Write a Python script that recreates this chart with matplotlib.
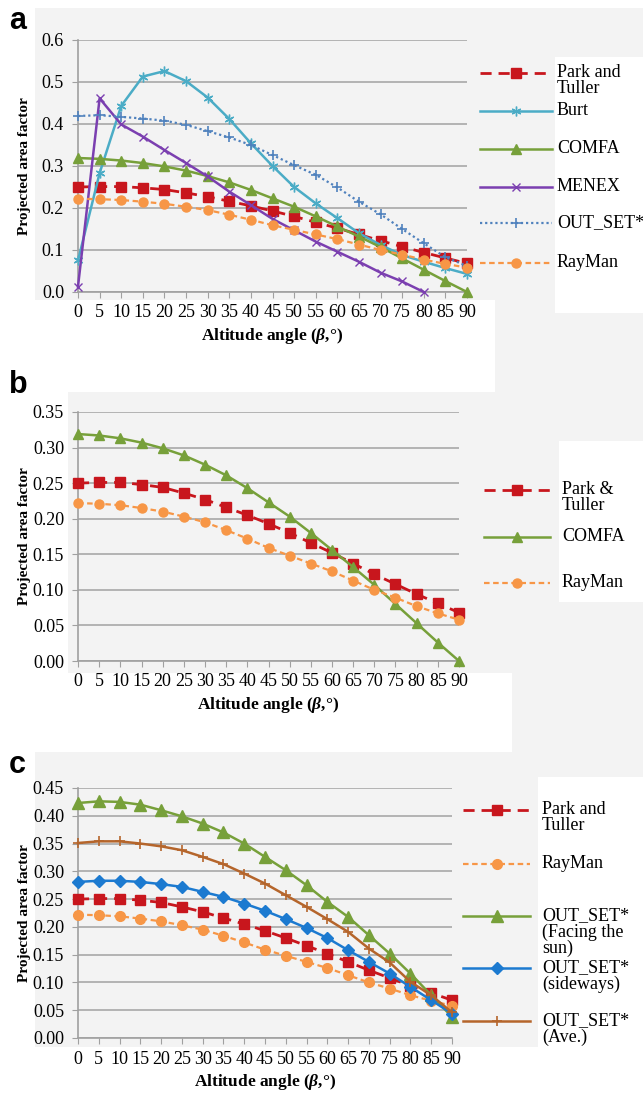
import numpy as np
import matplotlib
matplotlib.use("Agg")
import matplotlib.pyplot as plt
from matplotlib.lines import Line2D
from matplotlib.patches import Rectangle
from matplotlib.ticker import FormatStrFormatter
from matplotlib.transforms import blended_transform_factory

plt.rcParams['font.family'] = ['Liberation Serif', 'DejaVu Serif']
plt.rcParams['mathtext.fontset'] = 'custom'
plt.rcParams['mathtext.rm'] = 'Liberation Serif:bold'
plt.rcParams['mathtext.it'] = 'Liberation Serif:italic:bold'
plt.rcParams['mathtext.bf'] = 'Liberation Serif:bold'

# data
angles = list(range(0, 91, 5))
park_tuller = [0.250, 0.251, 0.251, 0.248, 0.244, 0.236, 0.227, 0.216, 0.205, 0.193,
               0.180, 0.166, 0.152, 0.137, 0.122, 0.108, 0.094, 0.081, 0.068]
rayman = [0.222, 0.221, 0.219, 0.215, 0.210, 0.203, 0.195, 0.184, 0.172, 0.159,
          0.148, 0.137, 0.126, 0.113, 0.100, 0.089, 0.077, 0.067, 0.058]
comfa = [0.319, 0.317, 0.313, 0.307, 0.299, 0.289, 0.276, 0.261, 0.243, 0.223,
         0.203, 0.180, 0.156, 0.132, 0.107, 0.080, 0.053, 0.026, 0.000]
burt = [0.075, 0.283, 0.443, 0.513, 0.526, 0.502, 0.463, 0.412, 0.354, 0.300,
        0.250, 0.211, 0.176, 0.140, 0.112, 0.088, 0.072, 0.057, 0.043]
menex = [0.013, 0.461, 0.399, 0.370, 0.338, 0.307, 0.275, 0.239, 0.207, 0.174,
         0.147, 0.120, 0.096, 0.072, 0.046, 0.025, 0.000, np.nan, np.nan]
out_set = [0.419, 0.421, 0.417, 0.413, 0.408, 0.398, 0.383, 0.368, 0.350, 0.326,
           0.302, 0.279, 0.249, 0.215, 0.185, 0.150, 0.116, 0.083, 0.062]
out_set_facing = [0.423, 0.426, 0.425, 0.420, 0.410, 0.399, 0.386, 0.370, 0.350, 0.326,
                  0.302, 0.275, 0.245, 0.218, 0.185, 0.152, 0.116, 0.077, 0.038]
out_set_sideways = [0.281, 0.283, 0.283, 0.281, 0.277, 0.272, 0.263, 0.254, 0.242, 0.229,
                    0.214, 0.198, 0.180, 0.158, 0.137, 0.116, 0.092, 0.068, 0.044]
out_set_ave = [0.351, 0.354, 0.354, 0.350, 0.345, 0.338, 0.326, 0.313, 0.296, 0.278,
               0.257, 0.236, 0.214, 0.191, 0.161, 0.136, 0.101, 0.077, 0.046]

W, H = 643, 1098
GRAY = '#f3f3f3'

red = '#c8161d'
orange = '#f79646'
green = '#77a03a'
lblue = '#4bacc6'
purple = '#7b3fb0'
blue = '#4f81bd'
dblue = '#1c7ad0'
brown = '#b5652b'

park_style = dict(color=red, lw=2.0, ls=(0, (4, 2.5)), marker='s', ms=7, mec=red, mfc=red)
ray_style = dict(color=orange, lw=1.6, ls=(0, (2.5, 1.6)), marker='o', ms=6.5, mec=orange, mfc=orange)
comfa_style = dict(color=green, lw=1.8, ls='-', marker='^', ms=6.5, mec=green, mfc=green)
burt_style = dict(color=lblue, lw=1.8, ls='-', marker=(6, 2, 0), ms=7, mec=lblue, mew=1.0)
menex_style = dict(color=purple, lw=1.8, ls='-', marker='x', ms=6, mec=purple, mew=1.0)
outset_style = dict(color=blue, lw=1.6, ls=(0, (1, 1.3)), marker='+', ms=7, mec=blue, mew=1.2)

park_c = dict(park_style, ms=7.5)
ray_c = dict(ray_style, ms=7)
facing_style = dict(color=green, lw=1.8, ls='-', marker='^', ms=8, mec=green, mfc=green)
side_style = dict(color=dblue, lw=1.8, ls='-', marker='D', ms=6.5, mec=dblue, mfc=dblue)
ave_style = dict(color=brown, lw=1.8, ls='-', marker='+', ms=7, mec=brown, mew=1.2)


def fx(x):
    return x / W


def fy(y):
    return 1 - y / H


fig = plt.figure(figsize=(W / 100, H / 100), dpi=100)


def rect(x0, y0, x1, y1, color):
    fig.patches.append(Rectangle((fx(x0), fy(y1)), (x1 - x0) / W, (y1 - y0) / H,
                                 transform=fig.transFigure, facecolor=color,
                                 edgecolor='none', zorder=-10))


# chart background pieces
for r in [(35, 8, 643, 300), (495, 300, 643, 392), (68, 392, 643, 673),
          (512, 673, 643, 752), (35, 752, 643, 1047)]:
    rect(*r, GRAY)
for r in [(555, 57, 643, 313), (559, 441, 643, 602), (538, 777, 643, 1098)]:
    rect(*r, 'white')


def make_axes(left, top, right, bottom, ymax, step, fmt):
    ax = fig.add_axes([fx(left), fy(bottom), (right - left) / W, (bottom - top) / H])
    ax.set_facecolor('none')
    ax.set_xlim(0, 90)
    ax.set_ylim(0, ymax)
    ax.set_xticks(angles)
    ax.set_yticks(np.arange(0, ymax + 1e-9, step))
    ax.yaxis.set_major_formatter(FormatStrFormatter(fmt))
    ax.grid(axis='y', color='#a8a8a8', lw=1.2)
    ax.set_axisbelow(True)
    for s in ['top', 'right']:
        ax.spines[s].set_visible(False)
    for s in ['left', 'bottom']:
        ax.spines[s].set_color('#a0a0a0')
        ax.spines[s].set_linewidth(1.2)
    ax.tick_params(axis='x', length=4, color='#a0a0a0', pad=5, labelsize=13)
    ax.tick_params(axis='y', length=4, color='#a0a0a0', pad=6, labelsize=13)
    ax.set_xlabel('Altitude angle ($\\beta$,°)', fontweight='bold', fontsize=12.5, labelpad=3)
    ax.set_ylabel('Projected area factor', fontweight='bold', fontsize=11)
    ax.yaxis.set_label_coords(fx(31), 0.5,
                              transform=blended_transform_factory(fig.transFigure, ax.transAxes))
    return ax


def legend(entries, x0, x1, xt):
    for label, style, y in entries:
        xm = (x0 + x1) / 2
        fig.add_artist(Line2D([fx(x0), fx(xm), fx(x1)], [fy(y)] * 3, markevery=[1],
                              transform=fig.transFigure, **style))
        fig.text(fx(xt), fy(y - 9), label, fontsize=13, va='top', ha='left',
                 linespacing=0.95)


# panel a
ax_a = make_axes(78, 40, 467, 292, 0.6, 0.1, '%.1f')
for vals, st in [(park_tuller, park_style), (burt, burt_style), (comfa, comfa_style),
                 (menex, menex_style), (out_set, outset_style), (rayman, ray_style)]:
    ax_a.plot(angles, vals, clip_on=False, zorder=3, **st)
legend([("Park and\nTuller", park_style, 73), ("Burt", burt_style, 111),
        ("COMFA", comfa_style, 149), ("MENEX", menex_style, 187),
        ("OUT_SET*", outset_style, 223), ("RayMan", ray_style, 263)], 480, 552, 557)

# panel b
ax_b = make_axes(78, 412, 459, 661, 0.35, 0.05, '%.2f')
for vals, st in [(park_tuller, park_style), (comfa, comfa_style), (rayman, ray_style)]:
    ax_b.plot(angles, vals, clip_on=False, zorder=3, **st)
legend([("Park &\nTuller", park_style, 490), ("COMFA", comfa_style, 537),
        ("RayMan", ray_style, 583)], 484, 550, 562)

# panel c
ax_c = make_axes(78, 788, 452, 1038, 0.45, 0.05, '%.2f')
for vals, st in [(park_tuller, park_c), (rayman, ray_c), (out_set_facing, facing_style),
                 (out_set_sideways, side_style), (out_set_ave, ave_style)]:
    ax_c.plot(angles, vals, clip_on=False, zorder=3, **st)
legend([("Park and\nTuller", park_c, 810), ("RayMan", ray_c, 864),
        ("OUT_SET*\n(Facing the\nsun)", facing_style, 916),
        ("OUT_SET*\n(sideways)", side_style, 968),
        ("OUT_SET*\n(Ave.)", ave_style, 1021)], 463, 530, 542)

for lab, y in [('a', 29), ('b', 393), ('c', 773)]:
    fig.text(fx(9), fy(y), lab, fontsize=22, fontweight='bold', va='baseline',
             family=['Liberation Sans', 'DejaVu Sans'])

fig.savefig('out.png', dpi=100)
